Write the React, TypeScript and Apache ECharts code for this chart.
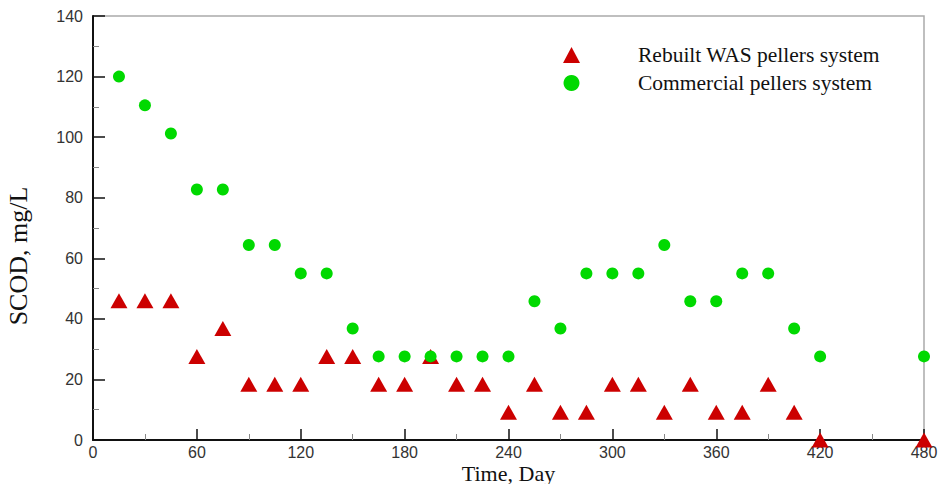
import React, { useEffect, useRef } from "react";
import * as echarts from "echarts";

const days = [15, 30, 45, 60, 75, 90, 105, 120, 135, 150, 165, 180, 195, 210, 225, 240, 255, 270, 285, 300, 315, 330, 345, 360, 375, 390, 405, 420, 480];
const rebuiltValues = [46, 46, 46, 27.6, 36.8, 18.4, 18.4, 18.4, 27.6, 27.6, 18.4, 18.4, 27.6, 18.4, 18.4, 9.2, 18.4, 9.2, 9.2, 18.4, 18.4, 9.2, 18.4, 9.2, 9.2, 18.4, 9.2, 0, 0];
const commercialValues = [120, 110.5, 101.2, 82.7, 82.7, 64.4, 64.4, 55, 55, 36.8, 27.6, 27.6, 27.6, 27.6, 27.6, 27.6, 45.8, 36.8, 55, 55, 55, 64.4, 45.8, 45.8, 55, 55, 36.8, 27.6, 27.6];
const seriesNames = ["Rebuilt WAS pellers system", "Commercial pellers system"];
const xTitle = "Time, Day";
const yTitle = "SCOD, mg/L";

export default function App() {
  const ref = useRef<HTMLDivElement>(null);
  useEffect(() => {
    if (!ref.current) return;
    const chart = echarts.init(ref.current, undefined, { renderer: "svg" });
    const serif = "'Liberation Serif', 'Times New Roman', serif";
    const sans = "'Liberation Sans', Arial, sans-serif";
    chart.setOption({
      animation: false,
      backgroundColor: "#ffffff",
      grid: {
        left: 93,
        right: 15,
        top: 16,
        bottom: 44,
        show: true,
        borderColor: "#aaaaaa",
        borderWidth: 1.5,
        containLabel: false,
        outerBoundsMode: "none",
      },
      legend: {
        show: true,
        orient: "vertical",
        left: 558,
        top: 39,
        itemGap: 6,
        itemWidth: 17,
        itemHeight: 16,
        data: seriesNames.map((n) => ({ name: n })),
        textStyle: {
          fontFamily: serif,
          fontSize: 21.5,
          color: "#111",
          padding: [0, 0, 0, 53],
        },
      },
      xAxis: {
        type: "value",
        min: 0,
        max: 480,
        interval: 60,
        name: xTitle,
        nameLocation: "middle",
        nameMoveOverlap: false,
        nameGap: 33,
        nameTextStyle: { fontFamily: serif, fontSize: 22, lineHeight: 20, color: "#111", verticalAlign: "middle" },
        axisLine: { show: true, lineStyle: { color: "#111", width: 2 } },
        axisTick: { show: true, inside: true, length: 11, lineStyle: { color: "#111", width: 1.5 } },
        minorTick: { show: true, splitNumber: 2, length: 6, lineStyle: { color: "#888", width: 1 } },
        axisLabel: { fontFamily: sans, fontSize: 16, lineHeight: 16, color: "#333", margin: 4 },
        splitLine: { show: false },
      },
      yAxis: {
        type: "value",
        min: 0,
        max: 140,
        interval: 20,
        name: yTitle,
        nameLocation: "middle",
        nameMoveOverlap: false,
        nameGap: 62,
        nameTextStyle: { fontFamily: serif, fontSize: 26, color: "#111", padding: [0, 56, 0, 0] },
        axisLine: { show: true, lineStyle: { color: "#111", width: 2 } },
        axisTick: { show: true, inside: true, length: 12, lineStyle: { color: "#111", width: 1.5 } },
        minorTick: { show: true, splitNumber: 2, length: 6, lineStyle: { color: "#888", width: 1 } },
        axisLabel: { fontFamily: sans, fontSize: 16, color: "#333", margin: 10 },
        splitLine: { show: false },
      },
      series: [
        {
          name: seriesNames[0],
          type: "scatter",
          symbol: "triangle",
          symbolSize: [17, 15],
          itemStyle: { color: "#cc0000", opacity: 1 },
          data: days.map((d, i) => [d, rebuiltValues[i]]),
          z: 3,
        },
        {
          name: seriesNames[1],
          type: "scatter",
          symbol: "circle",
          symbolSize: 12,
          itemStyle: { color: "#00d900", opacity: 1 },
          data: days.map((d, i) => [d, commercialValues[i]]),
          z: 4,
        },
      ],
    });
    return () => chart.dispose();
  }, []);
  return <div ref={ref} style={{ position: "fixed", left: 0, top: 0, width: 939, height: 484 }} />;
}
